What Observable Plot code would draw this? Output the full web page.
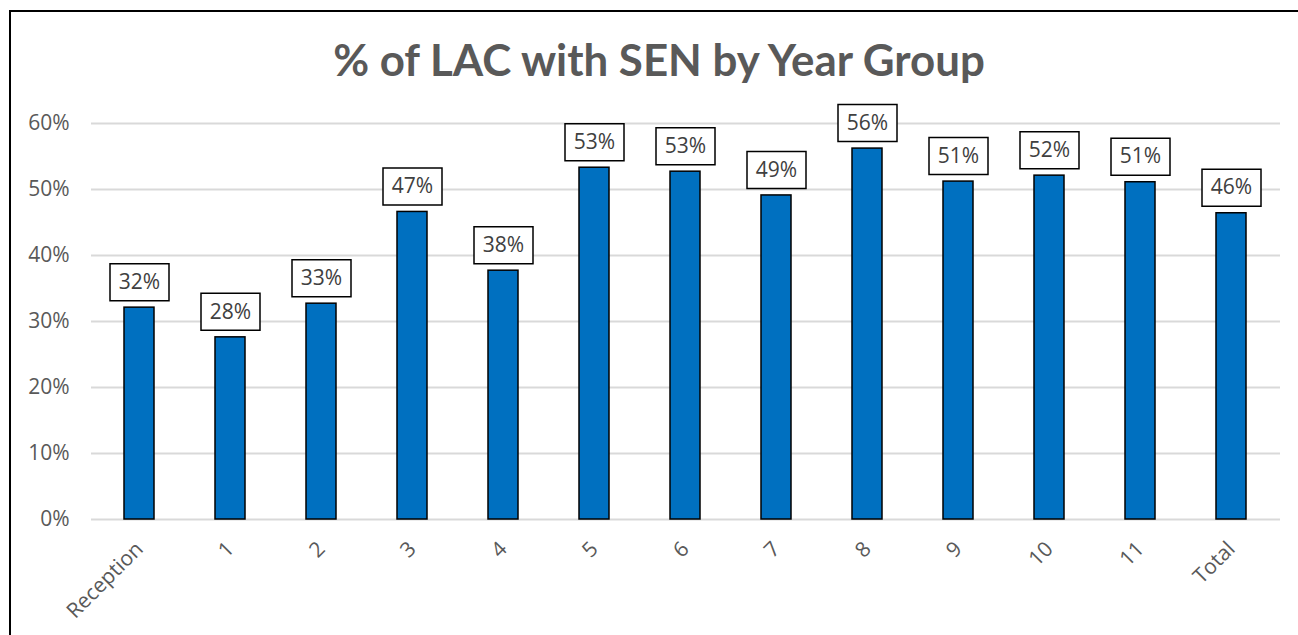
<!DOCTYPE html>
<html><head><meta charset="utf-8">
<script src="https://cdn.jsdelivr.net/npm/d3@7"></script>
<script src="https://cdn.jsdelivr.net/npm/@observablehq/plot@0.6"></script>
<style>
body{margin:0;background:#fff;font-family:"Open Sans",sans-serif;}
#wrap{position:relative;width:1298px;height:635px;overflow:hidden;}
#frame{position:absolute;left:9px;top:10px;width:2000px;height:2000px;border-left:2px solid #000;border-top:2px solid #000;pointer-events:none;}
#title{height:100px;position:relative;}
#title span{position:absolute;left:659px;top:38px;transform:translateX(-50%);font-family:Lato,sans-serif;font-weight:700;font-size:46px;line-height:1;color:#595959;white-space:nowrap;}
svg{display:block;}
</style></head>
<body>
<div id="wrap">
  <div id="title"><span id="tt">% of LAC with SEN by Year Group</span></div>
  <div id="chart"></div>
  <div id="frame"></div>
</div>
<script>
const categories = ["Reception","1","2","3","4","5","6","7","8","9","10","11","Total"];
const values = [32.1, 27.6, 32.7, 46.6, 37.7, 53.3, 52.7, 49.1, 56.2, 51.2, 52.1, 51.1, 46.4];
const yTicks = [0, 10, 20, 30, 40, 50, 60];

// fit title width to reference
const tt = document.getElementById("tt");
const targetW = 652;
const fs = 46 * targetW / tt.getBoundingClientRect().width;
tt.style.fontSize = fs + "px";

const data = categories.map((c, i) => ({cat: c, v: values[i], label: Math.round(values[i]) + "%"}));

const boxSymbol = {draw(ctx) { ctx.rect(-29.5, -18.5, 59, 37); }};

const chart = Plot.plot({
  width: 1298,
  height: 535,
  marginTop: 23,
  marginBottom: 116,
  marginLeft: 91,
  marginRight: 18,
  style: {fontFamily: "'Open Sans', sans-serif", fontSize: "21px", color: "#595959", background: "#fff"},
  x: {domain: categories, paddingInner: 0.67, paddingOuter: 0.335, label: null, tickSize: 0, tickPadding: 26, tickRotate: -45},
  y: {domain: [0, 60], ticks: yTicks, tickFormat: d => d + "%", label: null, tickSize: 0, tickPadding: 22},
  marks: [
    Plot.ruleY(yTicks, {stroke: "#d9d9d9", strokeWidth: 2}),
    Plot.barY(data, {x: "cat", y: "v", fill: "#0070C0", stroke: "#000", strokeWidth: 1.5}),
    Plot.dot(data, {x: "cat", y: "v", symbol: boxSymbol, r: 10, dy: -25.5, fill: "#fff", stroke: "#000", strokeWidth: 1.5}),
    Plot.text(data, {x: "cat", y: "v", text: "label", dy: -25.5, fill: "#404040", fontSize: 21})
  ]
});
document.getElementById("chart").appendChild(chart);
</script>
</body></html>
